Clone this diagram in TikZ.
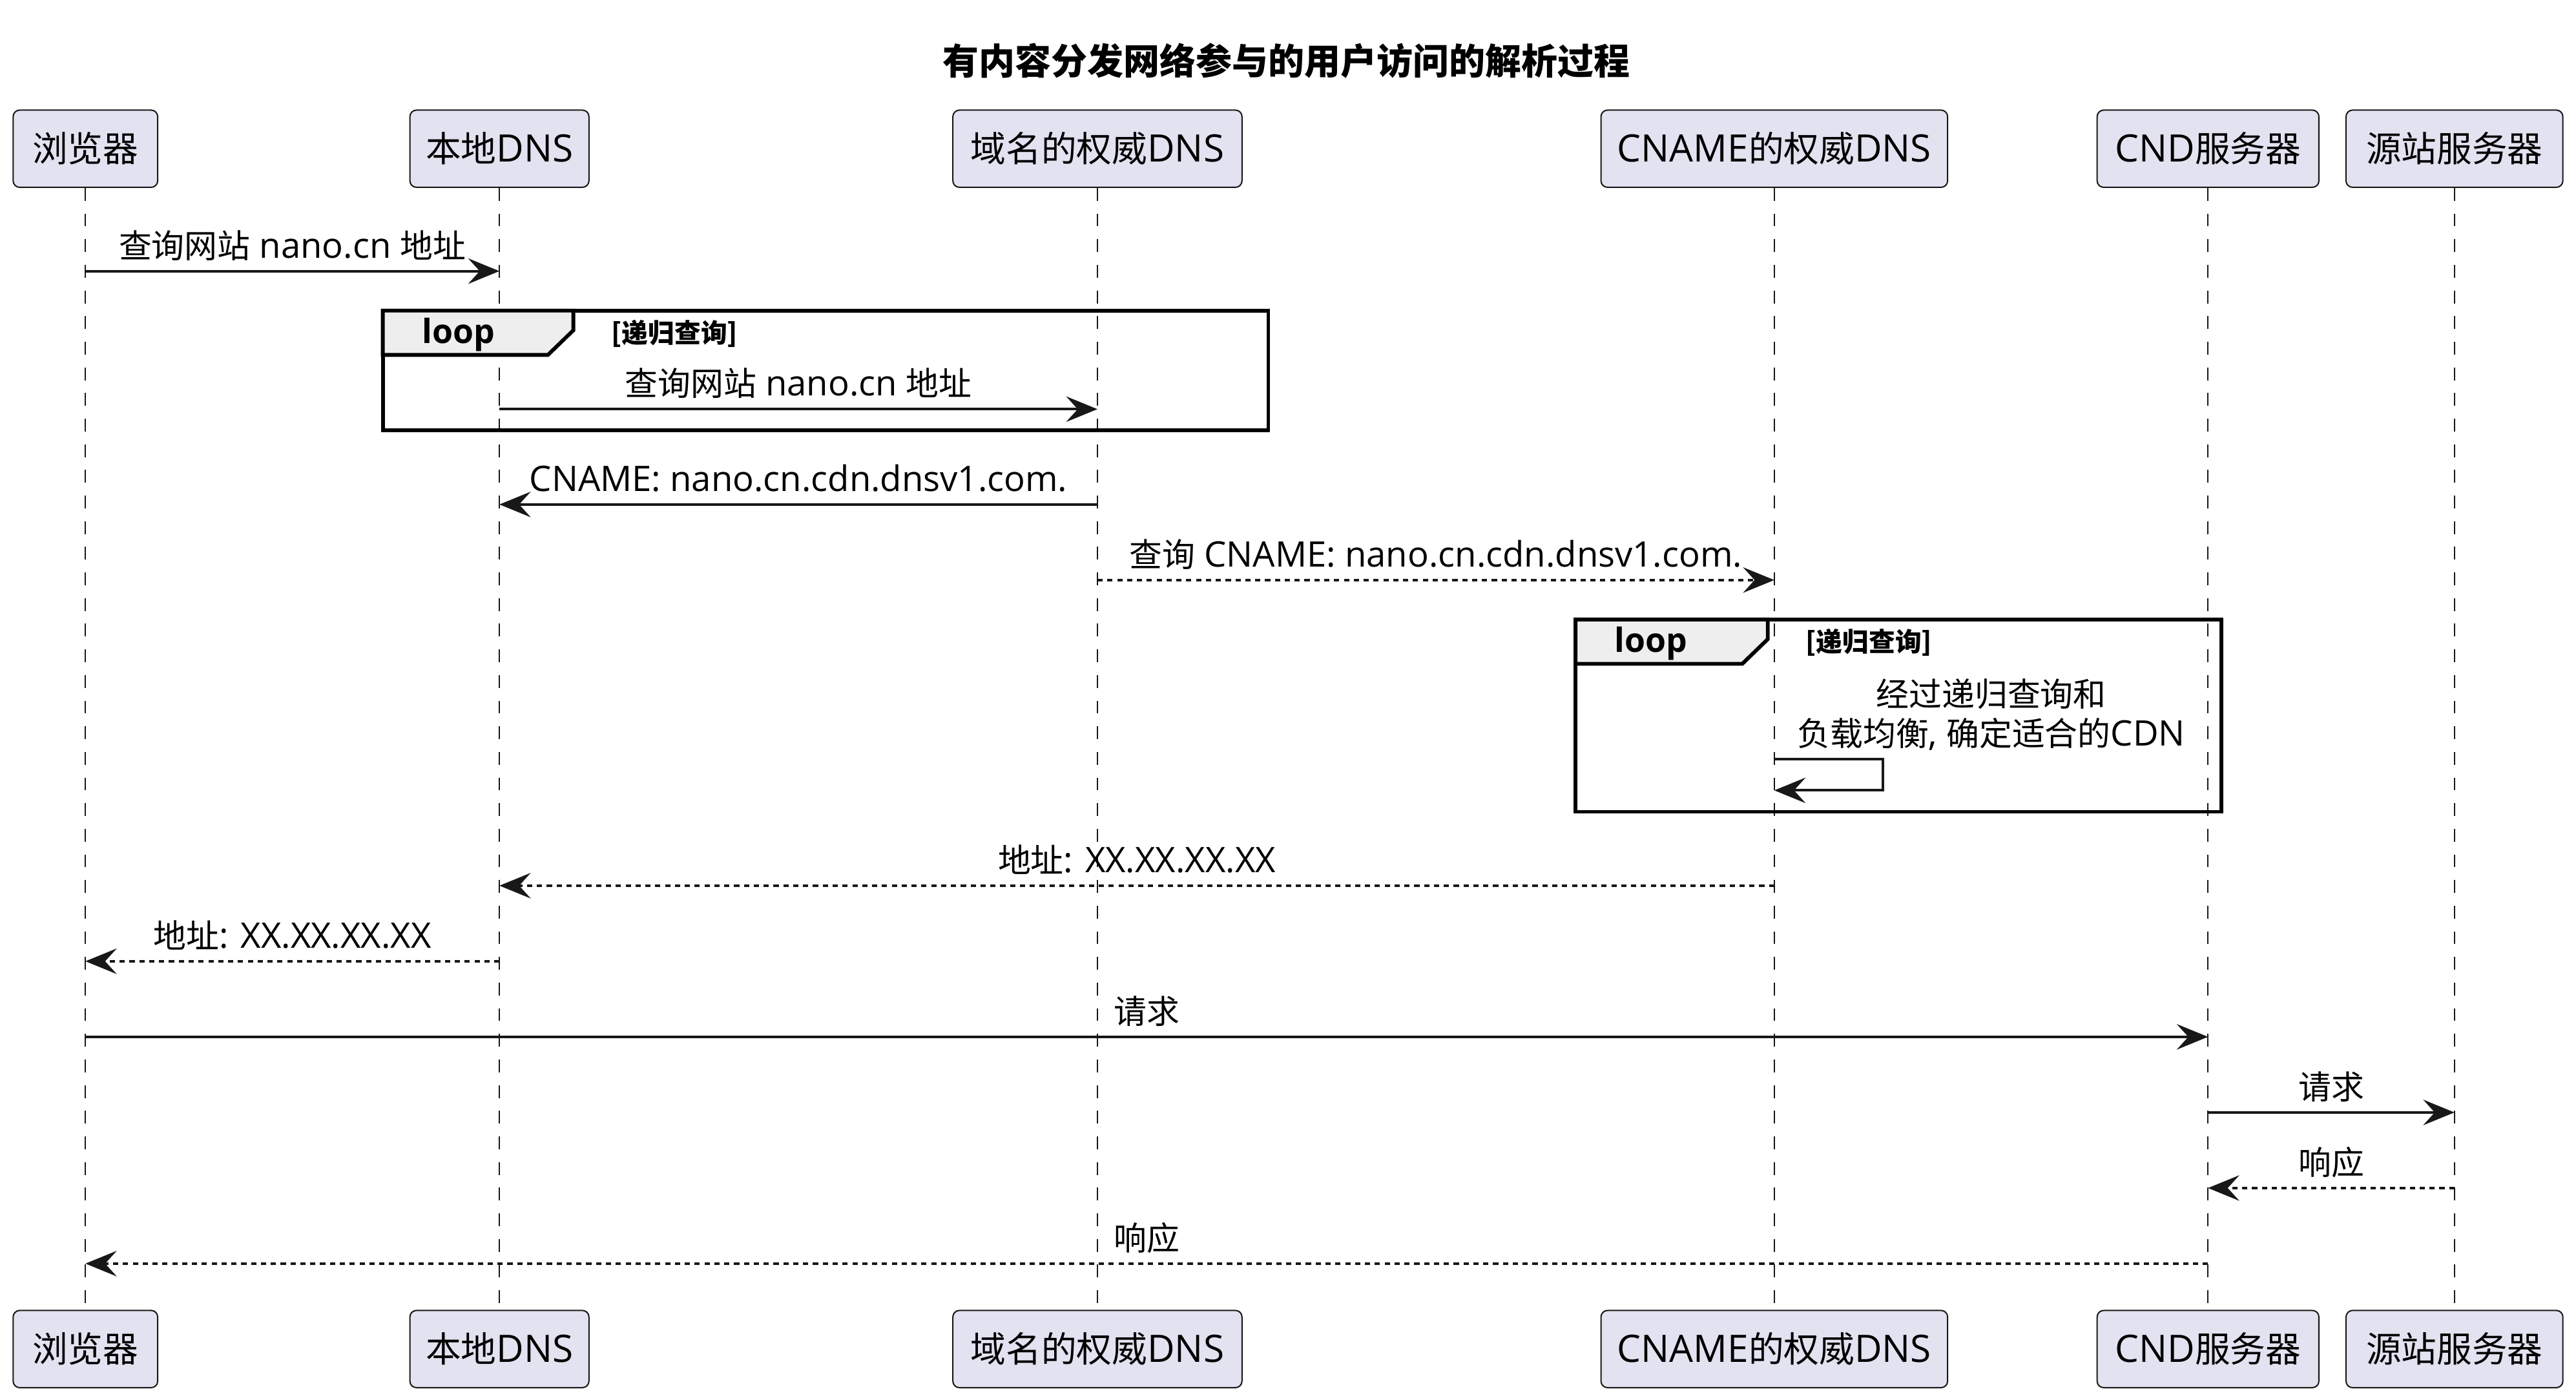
\documentclass[tikz,border=0pt]{standalone}
\usepackage{fontspec}
\setmainfont{Noto Sans CJK SC}
\newfontfamily\latf{Open Sans}[Scale=1.07]
\newcommand{\lat}[1]{{\latf #1}}
\usetikzlibrary{arrows.meta}
\definecolor{pfill}{HTML}{E2E2F0}
\definecolor{pline}{HTML}{181818}
\definecolor{tabfill}{HTML}{EEEEEE}
\tikzset{
  part/.style={draw=pline, fill=pfill, rounded corners=4pt, line width=0.8pt,
    minimum height=47pt, inner sep=0pt, font=\fontsize{21.5}{25}\selectfont, text=black},
  life/.style={draw=pline, line width=0.7pt, dash pattern=on 7.8pt off 7.8pt},
  msg/.style={line width=1.5pt, draw=pline, -{Stealth[length=19pt,width=15.5pt,inset=7pt]}},
  ret/.style={msg, dash pattern=on 3.2pt off 2.8pt},
  lbl/.style={font=\fontsize{20}{24}\selectfont, anchor=base, inner sep=0pt},
  frm/.style={draw=black, line width=2.3pt},
  tabshape/.style={fill=tabfill, draw=black, line width=2.3pt, line join=miter},
  looptxt/.style={font=\latf\bfseries\fontsize{19}{23}\selectfont, inner sep=0pt},
  condtxt/.style={font=\bfseries\fontsize{16}{19}\selectfont, inner sep=0pt, anchor=west},
}
\begin{document}
\begin{tikzpicture}[x=1pt,y=-1pt]
\useasboundingbox (0,0) rectangle (1568,852);
% title
\node[font=\bfseries\fontsize{22}{26}\selectfont] (title) at (783,37) {有内容分发网络参与的用户访问的解析过程};
% participants top
\node[part, minimum width=88pt]  (p1t) at (52,90.5)   {浏览器};
\node[part, minimum width=109pt] (p2t) at (304,90.5)  {本地\lat{DNS}};
\node[part, minimum width=176pt] (p3t) at (668,90.5)  {域名的权威\lat{DNS}};
\node[part, minimum width=211pt] (p4t) at (1080,90.5) {\lat{CNAME}的权威\lat{DNS}};
\node[part, minimum width=135pt] (p5t) at (1344,90.5) {\lat{CND}服务器};
\node[part, minimum width=132pt] (p6t) at (1494,90.5) {源站服务器};
% participants bottom
\node[part, minimum width=88pt]  (p1b) at (52,821)   {浏览器};
\node[part, minimum width=109pt] (p2b) at (304,821)  {本地\lat{DNS}};
\node[part, minimum width=176pt] (p3b) at (668,821)  {域名的权威\lat{DNS}};
\node[part, minimum width=211pt] (p4b) at (1080,821) {\lat{CNAME}的权威\lat{DNS}};
\node[part, minimum width=135pt] (p5b) at (1344,821) {\lat{CND}服务器};
\node[part, minimum width=132pt] (p6b) at (1494,821) {源站服务器};
% lifelines
\foreach \i in {1,...,6} { \draw[life] (p\i t.south) -- (p\i b.north); }
% loop frame 1
\draw[frm] (233,189) rectangle (772,262);
\draw[tabshape] (233,189) -- (349,189) -- (349,201) -- (333.5,216) -- (233,216) -- cycle;
\node[looptxt] (loop1) at (279,203.5) {loop};
\node[condtxt] (cond1) at (372,203) {[递归查询]};
% loop frame 2
\draw[frm] (959,377) rectangle (1352,494);
\draw[tabshape] (959,377) -- (1076,377) -- (1076,389) -- (1060.5,404) -- (959,404) -- cycle;
\node[looptxt] (loop2) at (1005,391.5) {loop};
\node[condtxt] (cond2) at (1099,391) {[递归查询]};
% message end points
\coordinate (m1a) at (52,165);   \coordinate (m1b) at (304,165);
\coordinate (m2a) at (304,249);  \coordinate (m2b) at (668,249);
\coordinate (m3a) at (668,307);  \coordinate (m3b) at (304,307);
\coordinate (m4a) at (668,353);  \coordinate (m4b) at (1080,353);
\coordinate (s1)  at (1080,462); \coordinate (s2)  at (1080,481);
\coordinate (m6a) at (1080,539); \coordinate (m6b) at (304,539);
\coordinate (m7a) at (304,585);  \coordinate (m7b) at (52,585);
\coordinate (m8a) at (52,631);   \coordinate (m8b) at (1344,631);
\coordinate (m9a) at (1344,677); \coordinate (m9b) at (1494,677);
\coordinate (m10a) at (1494,723); \coordinate (m10b) at (1344,723);
\coordinate (m11a) at (1344,769); \coordinate (m11b) at (52,769);
% messages
\draw[msg] (m1a) -- (m1b);
\node[lbl] (l1) at (178,157) {查询网站\lat{ nano.cn }地址};
\draw[msg] (m2a) -- (m2b);
\node[lbl] (l2) at (486,241) {查询网站\lat{ nano.cn }地址};
\draw[msg] (m3a) -- (m3b);
\node[lbl] (l3) at (486,299) {\lat{CNAME: nano.cn.cdn.dnsv1.com.}};
\draw[ret] (m4a) -- (m4b);
\node[lbl] (l4) at (874,345) {查询\lat{ CNAME: nano.cn.cdn.dnsv1.com.}};
\draw[msg] (s1) -- ++(66,0) |- (s2);
\node[font=\fontsize{20}{24}\selectfont, align=center, inner sep=0pt] (l5) at (1212,435) {经过递归查询和\\负载均衡\lat{, }确定适合的\lat{CDN}};
\draw[ret] (m6a) -- (m6b);
\node[lbl] (l6) at (692,531) {地址\lat{: XX.XX.XX.XX}};
\draw[ret] (m7a) -- (m7b);
\node[lbl] (l7) at (178,577) {地址\lat{: XX.XX.XX.XX}};
\draw[msg] (m8a) -- (m8b);
\node[lbl] (l8) at (698,623) {请求};
\draw[msg] (m9a) -- (m9b);
\node[lbl] (l9) at (1419,669) {请求};
\draw[ret] (m10a) -- (m10b);
\node[lbl] (l10) at (1419,715) {响应};
\draw[ret] (m11a) -- (m11b);
\node[lbl] (l11) at (698,761) {响应};
\end{tikzpicture}
\end{document}
